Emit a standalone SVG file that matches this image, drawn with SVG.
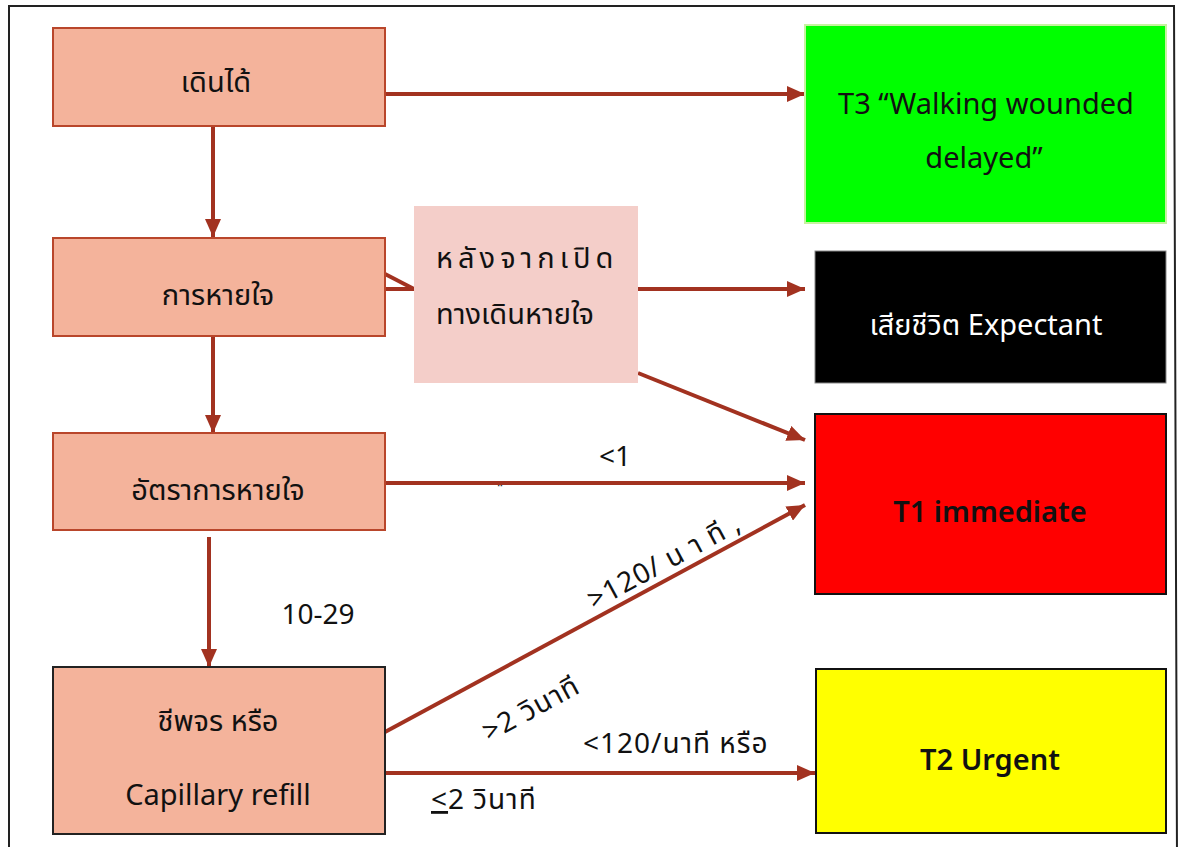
<svg xmlns="http://www.w3.org/2000/svg" width="1181" height="847" viewBox="0 0 1181 847">
<defs>
<marker id="ah" markerUnits="userSpaceOnUse" markerWidth="20" markerHeight="16" refX="18" refY="8" orient="auto">
<path d="M0,0 L18,8 L0,16 Z" fill="#A23220"/>
</marker>
<style>
.n{fill:#F4B39B;stroke:#B9462B;stroke-width:2}
.nb{fill:#F4B39B;stroke:#222;stroke-width:2}
.t{font-family:"Noto Sans","Noto Sans Thai","Open Sans",sans-serif;font-size:29px;fill:#111}
.c{stroke:#A23220;stroke-width:4;fill:none}
.ca{stroke:#A23220;stroke-width:4;fill:none;marker-end:url(#ah)}
.l{font-family:"Noto Sans","Noto Sans Thai","Open Sans",sans-serif;font-size:28px;fill:#111}
</style>
</defs>
<rect x="0" y="0" width="1181" height="847" fill="#fff"/>
<path d="M9,860 L9,6 L1174,6 L1177,860" fill="none" stroke="#222" stroke-width="2"/>

<g id="connectors">
<line class="ca" x1="385" y1="94" x2="805" y2="94"/>
<line class="ca" x1="213" y1="127" x2="213" y2="237"/>
<line class="ca" x1="213" y1="336" x2="213" y2="433"/>
<line class="ca" x1="209" y1="537" x2="209" y2="667"/>
<line class="c" x1="385" y1="289" x2="414" y2="289"/>
<line class="c" x1="385" y1="274" x2="414" y2="289"/>
<line class="ca" x1="638" y1="289" x2="805" y2="289"/>
<line class="ca" x1="638" y1="373" x2="805" y2="440"/>
<line class="ca" x1="385" y1="483" x2="805" y2="483"/>
<line class="ca" x1="385" y1="732" x2="805" y2="505"/>
<line class="ca" x1="385" y1="773" x2="815" y2="773"/>
<text class="l" x="615" y="466" text-anchor="middle">&lt;1</text>
<text x="500" y="496" font-family="DejaVu Sans,sans-serif" font-size="14" fill="#333" text-anchor="middle">¨</text>
<text class="l" x="318" y="624" text-anchor="middle">10-29</text>
<text class="l" transform="translate(594,610) rotate(-28.4)" letter-spacing="1">&gt;120/  น า ที ,</text>
<text class="l" transform="translate(489,742) rotate(-28.4)" letter-spacing="1">&gt;2 วินาที</text>
<text class="l" x="583" y="753" letter-spacing="1">&lt;120/นาที หรือ</text>
<text class="l" x="431" y="809" letter-spacing="1"><tspan text-decoration="underline">&lt;</tspan>2 วินาที</text>
</g>

<g id="n-walk">
<rect class="n" x="53" y="28" width="332" height="98"/>
<text class="t" x="216" y="92" text-anchor="middle">เดินได้</text>
</g>
<g id="n-breath">
<rect class="n" x="53" y="238" width="332" height="98"/>
<text class="t" x="218" y="305" text-anchor="middle">การหายใจ</text>
</g>
<g id="n-airway">
<rect x="414" y="206" width="224" height="177" fill="#F4CEC9"/>
<text class="t" x="436" y="268" letter-spacing="5">หลังจากเปิด</text>
<text class="t" x="436" y="324">ทางเดินหายใจ</text>
</g>
<g id="n-rate">
<rect class="n" x="53" y="433" width="332" height="97"/>
<text class="t" x="218" y="500" text-anchor="middle">อัตราการหายใจ</text>
</g>
<g id="n-pulse">
<rect class="nb" x="53" y="667" width="332" height="167"/>
<text class="t" x="218" y="731" text-anchor="middle">ชีพจร หรือ</text>
<text class="t" x="218" y="805" text-anchor="middle">Capillary refill</text>
</g>
<g id="n-t3">
<rect x="805" y="25" width="361" height="198" fill="#00FF00" stroke="#C6F3A0" stroke-width="2"/>
<text class="t" x="986" y="114" text-anchor="middle">T3 “Walking wounded</text>
<text class="t" x="984" y="168" text-anchor="middle">delayed”</text>
</g>
<g id="n-exp">
<rect x="815" y="251" width="351" height="132" fill="#000" stroke="#888" stroke-width="1"/>
<text class="t" x="986" y="335" text-anchor="middle" style="fill:#fff">เสียชีวิต Expectant</text>
</g>
<g id="n-t1">
<rect x="815" y="414" width="351" height="180" fill="#FF0000" stroke="#111" stroke-width="2"/>
<text class="t" x="990" y="522" text-anchor="middle" font-weight="600">T1 immediate</text>
</g>
<g id="n-t2">
<rect x="816" y="669" width="350" height="164" fill="#FFFF00" stroke="#111" stroke-width="2"/>
<text class="t" x="990" y="770" text-anchor="middle" font-weight="600">T2 Urgent</text>
</g>
</svg>
